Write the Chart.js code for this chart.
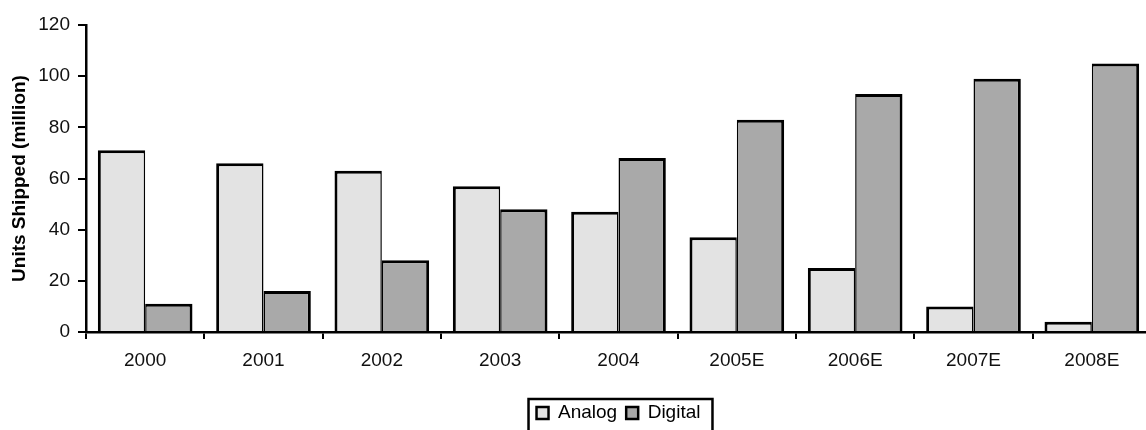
<!DOCTYPE html>
<html>
<head>
<meta charset="utf-8">
<title>Units Shipped</title>
<script src="https://cdn.jsdelivr.net/npm/chart.js@4.4.1/dist/chart.umd.min.js"></script>
<style>
  html, body { margin: 0; padding: 0; background: #fff; overflow: hidden; }
  #wrap { position: absolute; left: 0; top: 0; width: 1160px; height: 440px; }
</style>
</head>
<body>
<div id="wrap"><canvas id="units" width="1160" height="440"></canvas></div>
<script>
// Unità spedite per anno (milioni)
const years = ['2000', '2001', '2002', '2003', '2004', '2005E', '2006E', '2007E', '2008E'];
const analogUnits = [71, 66, 63, 57, 47, 37, 25, 10, 4];
const digitalUnits = [11, 16, 28, 48, 68, 83, 93, 99, 105];
const yMin = 0;
const yMax = 120;
const yStep = 20;

const FONT = '"Liberation Sans", Arial, sans-serif';

// Cornice attorno alla legenda
const legendFrame = {
    id: 'legendFrame',
    afterDraw(chart) {
        const boxes = chart.legend && chart.legend.legendHitBoxes;
        if (!boxes || !boxes.length) return;
        const first = boxes[0];
        const last = boxes[boxes.length - 1];
        const ctx = chart.ctx;
        ctx.save();
        ctx.strokeStyle = '#000';
        ctx.lineWidth = 2.5;
        ctx.strokeRect(first.left - 8, first.top - 4.5,
            last.left + last.width - first.left + 20, first.height + 20);
        ctx.restore();
    }
};

const ctx = document.getElementById('units').getContext('2d');

new Chart(ctx, {
    type: 'bar',
    data: {
        labels: years,
        datasets: [{
            label: 'Analog',
            data: analogUnits,
            backgroundColor: '#e3e3e3',
            borderColor: '#000',
            borderWidth: { top: 3, left: 3, right: 1.5, bottom: 0 },
            borderSkipped: 'start'
        }, {
            label: 'Digital',
            data: digitalUnits,
            backgroundColor: '#a9a9a9',
            borderColor: '#000',
            borderWidth: { top: 3, left: 1.5, right: 3, bottom: 0 },
            borderSkipped: 'start'
        }]
    },
    options: {
        responsive: false,
        animation: false,
        devicePixelRatio: 1,
        categoryPercentage: 0.8,
        barPercentage: 1.0,
        layout: { padding: { top: 25, right: 9, bottom: 7.5, left: 0 } },
        plugins: {
            tooltip: { enabled: false },
            legend: {
                position: 'bottom',
                fullSize: false,
                labels: {
                    boxWidth: 12,
                    boxHeight: 12,
                    padding: 9,
                    color: '#000',
                    font: { family: FONT, size: 19 },
                    // riquadri della legenda con bordo spesso
                    generateLabels(chart) {
                        const items = Chart.defaults.plugins.legend.labels.generateLabels(chart);
                        items.forEach(item => { item.lineWidth = 2.5; });
                        return items;
                    }
                }
            }
        },
        scales: {
            x: {
                type: 'category',
                grid: { display: true, drawOnChartArea: false, drawTicks: true, tickLength: 7, color: '#000', lineWidth: 2, offset: true },
                border: { display: true, color: '#000', width: 2.5 },
                ticks: { color: '#111', padding: 10, font: { family: FONT, size: 19 } },
                afterFit(scale) { scale.height = 62.5; }
            },
            y: {
                type: 'linear',
                min: yMin,
                max: yMax,
                grid: { display: true, drawOnChartArea: false, drawTicks: true, tickLength: 8, color: '#000', lineWidth: 2 },
                border: { display: true, color: '#000', width: 2.5 },
                ticks: { stepSize: yStep, color: '#111', padding: 8, font: { family: FONT, size: 19 } },
                title: {
                    display: true,
                    text: 'Units Shipped (million)',
                    color: '#000',
                    padding: { top: 8, bottom: 0 },
                    font: { family: FONT, size: 19, weight: 'bold' }
                },
                afterFit(scale) { scale.width = 86; }
            }
        }
    },
    plugins: [legendFrame]
});
</script>
</body>
</html>
